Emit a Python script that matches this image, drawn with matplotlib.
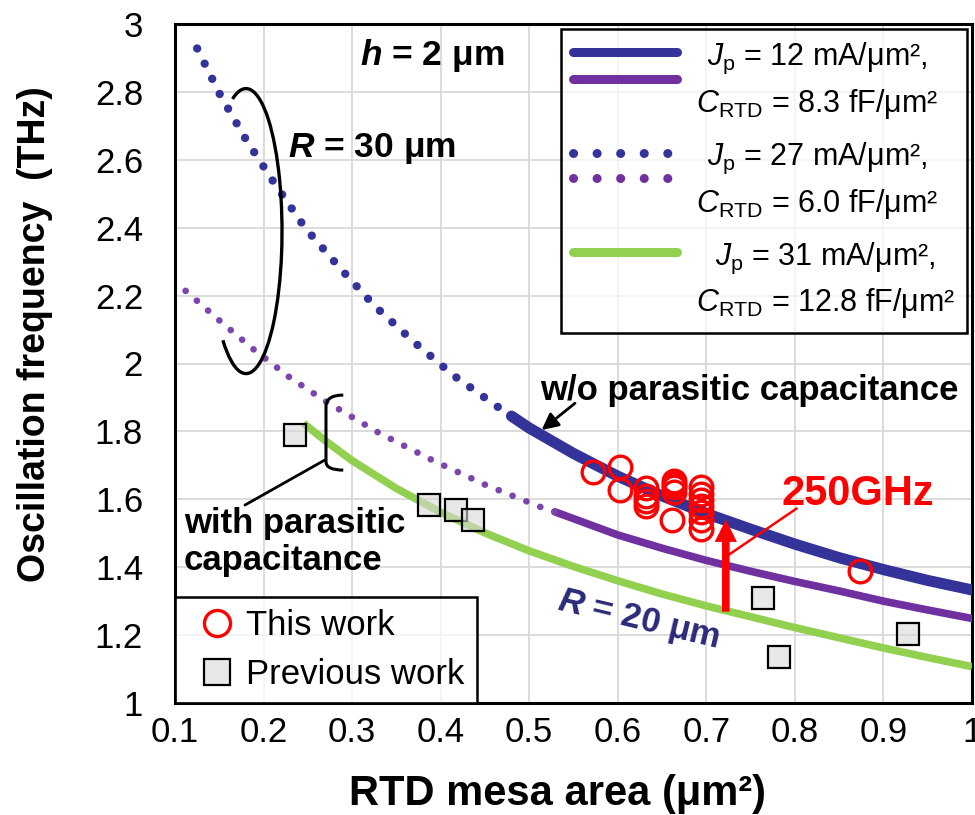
import numpy as np
import matplotlib
matplotlib.use("Agg")
import matplotlib.pyplot as plt
from matplotlib.legend_handler import HandlerBase
from matplotlib.lines import Line2D
from matplotlib.patches import Arc, PathPatch
from matplotlib.path import Path

plt.rcParams['font.family'] = ['Liberation Sans', 'DejaVu Sans']
plt.rcParams['mathtext.fontset'] = 'custom'
plt.rcParams['mathtext.rm'] = 'Liberation Sans'
plt.rcParams['mathtext.it'] = 'Liberation Sans:italic'
plt.rcParams['mathtext.bf'] = 'Liberation Sans:bold'
plt.rcParams['mathtext.bfit'] = 'Liberation Sans:italic:bold'

# ---- data ----
# Jp = 12 mA/um2, without parasitic capacitance (blue), R = 30 um part dotted
blue_dot_x = [0.125, 0.151, 0.181, 0.213, 0.247, 0.286, 0.326, 0.370, 0.415, 0.463, 0.480]
blue_dot_y = [2.928, 2.791, 2.656, 2.528, 2.399, 2.282, 2.168, 2.063, 1.964, 1.875, 1.845]
blue_x = [0.480, 0.500, 0.550, 0.600, 0.650, 0.700, 0.750, 0.800, 0.850, 0.900, 0.950, 1.000]
blue_y = [1.845, 1.810, 1.735, 1.668, 1.610, 1.558, 1.512, 1.468, 1.428, 1.393, 1.361, 1.333]

# with parasitic capacitance (purple)
purple_dot_x = [0.112, 0.150, 0.189, 0.229, 0.271, 0.330, 0.390, 0.451, 0.514, 0.529]
purple_dot_y = [2.214, 2.127, 2.041, 1.960, 1.887, 1.796, 1.716, 1.642, 1.576, 1.563]
purple_x = [0.529, 0.550, 0.600, 0.650, 0.700, 0.750, 0.800, 0.850, 0.900, 0.950, 1.000]
purple_y = [1.563, 1.543, 1.495, 1.456, 1.420, 1.388, 1.358, 1.330, 1.300, 1.274, 1.249]

# Jp = 31 mA/um2 (green)
green_x = [0.245, 0.270, 0.300, 0.350, 0.400, 0.450, 0.500, 0.550, 0.600, 0.650,
           0.700, 0.750, 0.800, 0.850, 0.900, 0.950, 1.000]
green_y = [1.824, 1.772, 1.714, 1.632, 1.562, 1.501, 1.448, 1.402, 1.360, 1.321,
           1.286, 1.254, 1.222, 1.192, 1.162, 1.134, 1.107]

# measured devices
this_x = [0.572, 0.603, 0.602, 0.632, 0.632, 0.632, 0.632, 0.663, 0.663, 0.663, 0.663,
          0.661, 0.694, 0.694, 0.694, 0.694, 0.694, 0.694, 0.694, 0.873]
this_y = [1.680, 1.694, 1.627, 1.632, 1.610, 1.595, 1.580, 1.655, 1.645, 1.635, 1.622,
          1.539, 1.637, 1.615, 1.598, 1.580, 1.562, 1.540, 1.512, 1.389]
prev_x = [0.235, 0.387, 0.417, 0.437, 0.764, 0.782, 0.928]
prev_y = [1.789, 1.583, 1.568, 1.539, 1.310, 1.136, 1.203]

x_ticks = [0.1, 0.2, 0.3, 0.4, 0.5, 0.6, 0.7, 0.8, 0.9, 1.0]
y_ticks = [1.0, 1.2, 1.4, 1.6, 1.8, 2.0, 2.2, 2.4, 2.6, 2.8, 3.0]

BLUE = '#333399'
PURPLE = '#7030A0'
PURPLE_DOT = '#7B45AD'
GREEN = '#92D050'
RED = '#FF0000'
NAVY = '#2A2A78'


class HandlerStack(HandlerBase):
    """Legend handle made of several lines stacked vertically."""
    def __init__(self, offsets, **kw):
        super().__init__(**kw)
        self.offsets = offsets

    def create_artists(self, legend, orig_handle, xdescent, ydescent,
                       width, height, fontsize, trans):
        yc = (height - ydescent) / 2
        out = []
        for h, off in zip(orig_handle, self.offsets):
            ls = '-' if h.get_linestyle() == '-' else (0, (0.01, 2.6))
            ln = Line2D([-xdescent, width - xdescent], [yc + off, yc + off],
                        color=h.get_color(), lw=6.5, linestyle=ls,
                        solid_capstyle='round', dash_capstyle='round',
                        transform=trans)
            out.append(ln)
        return out


fig = plt.figure(figsize=(9.75, 8.15), dpi=100)
ax = fig.add_axes([175 / 975, 1 - 703 / 815, 797 / 975, 679 / 815])

ax.set_xlim(0.1, 1.0)
ax.set_ylim(1.0, 3.0)
ax.set_xticks(x_ticks)
ax.set_yticks(y_ticks)
ax.set_xticklabels([f"{v:g}" for v in x_ticks])
ax.set_yticklabels([f"{v:g}" for v in y_ticks])
ax.tick_params(axis='both', length=0, labelsize=25)
ax.tick_params(axis='x', pad=9.5)
ax.tick_params(axis='y', pad=23)
ax.grid(True, color='#d9d9d9', lw=1.3)
ax.set_axisbelow(True)
for s in ax.spines.values():
    s.set_linewidth(2.2)
    s.set_color('black')

# curves
g_line, = ax.plot(green_x, green_y, color=GREEN, lw=5.5, solid_capstyle='butt', zorder=3)
p_line, = ax.plot(purple_x, purple_y, color=PURPLE, lw=5.5, solid_capstyle='round', zorder=3)
ax.plot(purple_dot_x, purple_dot_y, color=PURPLE_DOT, lw=4.8,
        linestyle=(0, (0.01, 2.23)), dash_capstyle='round', zorder=3)
b_line, = ax.plot(blue_x, blue_y, color=BLUE, lw=8, solid_capstyle='round', zorder=3)
ax.plot(blue_dot_x, blue_dot_y, color=BLUE, lw=6,
        linestyle=(0, (0.01, 2.02)), dash_capstyle='round', zorder=3)

# legend proxies for the dotted pair
bd_proxy = Line2D([], [], color=BLUE, linestyle=':')
pd_proxy = Line2D([], [], color=PURPLE, linestyle=':')

# points
prev_pts, = ax.plot(prev_x, prev_y, 's', ms=16, mfc=(0.85, 0.85, 0.85, 0.6),
                    mec='black', mew=1.6, ls='none', zorder=4)
this_pts, = ax.plot(this_x, this_y, 'o', ms=16.3, mfc='none', mec=RED,
                    mew=2.4, ls='none', zorder=5)

# axis labels
ax.set_xlabel('RTD mesa area (μm²)', fontsize=30, fontweight='bold', va='center')
ax.xaxis.set_label_coords(0.480, -0.134)
ax.set_ylabel('Oscillation frequency  (THz)', fontsize=27, fontweight='bold', va='center')
ax.yaxis.set_label_coords(-0.1757, 0.5434)

# annotations
ax.text(0.309, 2.879, r'$\mathbfit{h}$ = 2 μm', fontsize=25.5, fontweight='bold',
        ha='left', va='baseline')
ax.text(0.2276, 2.609, r'$\mathbfit{R}$ = 30 μm', fontsize=25.5, fontweight='bold',
        ha='left', va='baseline')
ax.text(0.512, 1.892, 'w/o parasitic capacitance', fontsize=25, fontweight='bold',
        ha='left', va='baseline', zorder=6)
ax.text(0.110, 1.500, 'with parasitic', fontsize=25, fontweight='bold',
        ha='left', va='baseline', zorder=6)
ax.text(0.110, 1.392, 'capacitance', fontsize=25, fontweight='bold',
        ha='left', va='baseline', zorder=6)
ax.text(0.8707, 1.583, '250GHz', fontsize=30, fontweight='bold', color=RED,
        ha='center', va='baseline', zorder=6)
ax.text(0.623, 1.244, r'$\mathbfit{R}$ = 20 μm', fontsize=25, fontweight='bold',
        color=NAVY, rotation=-13.5, rotation_mode='anchor', ha='center', va='center',
        zorder=6)

# arrow to the w/o curve
ax.annotate('', xy=(0.514, 1.804), xytext=(0.5517, 1.883),
            arrowprops=dict(arrowstyle='-|>,head_length=0.5,head_width=0.25',
                            color='black', lw=2, shrinkA=0, shrinkB=0,
                            mutation_scale=20), zorder=6)
# red 250 GHz arrow and its leader
ax.annotate('', xy=(0.722, 1.54), xytext=(0.722, 1.269),
            arrowprops=dict(facecolor=RED, edgecolor='none', width=5.5,
                            headwidth=16, headlength=16, shrink=0), zorder=6)
ax.annotate('', xy=(0.725, 1.436), xytext=(0.802, 1.573),
            arrowprops=dict(arrowstyle='-', color=RED, lw=1.8,
                            shrinkA=0, shrinkB=0), zorder=6)

# ellipse around R = 30 um curves
ecx, ecy, ew, eh = 0.1802, 2.390, 0.0813, 0.8395
t1, t2 = np.deg2rad(230), np.deg2rad(472)
th1 = np.degrees(np.arctan2(eh * np.sin(t1), ew * np.cos(t1)))
th2 = np.degrees(np.arctan2(eh * np.sin(t2), ew * np.cos(t2)))
ax.add_patch(Arc((ecx, ecy), ew, eh, theta1=th1, theta2=th2,
                 color='black', lw=2.4, zorder=6))

# bracket for "with parasitic capacitance"
brace = Path([(0.290, 1.907), (0.2705, 1.907), (0.2705, 1.873),
              (0.2705, 1.711), (0.2705, 1.686), (0.290, 1.686)],
             [Path.MOVETO, Path.CURVE3, Path.CURVE3,
              Path.LINETO, Path.CURVE3, Path.CURVE3])
ax.add_patch(PathPatch(brace, fill=False, edgecolor='black', lw=2.2, zorder=6))
ax.annotate('', xy=(0.179, 1.583), xytext=(0.2694, 1.716),
            arrowprops=dict(arrowstyle='-', color='black', lw=2.0,
                            shrinkA=0, shrinkB=0), zorder=6)

# legends
labels1 = ['$\\mathit{J}_\\mathrm{p}$ = 12 mA/μm²,\n$\\mathit{C}_\\mathrm{RTD}$ = 8.3 fF/μm²',
           '$\\mathit{J}_\\mathrm{p}$ = 27 mA/μm²,\n$\\mathit{C}_\\mathrm{RTD}$ = 6.0 fF/μm²',
           '$\\mathit{J}_\\mathrm{p}$ = 31 mA/μm²,\n$\\mathit{C}_\\mathrm{RTD}$ = 12.8 fF/μm²']
h_solid = (b_line, p_line)
h_dot = (bd_proxy, pd_proxy)
h_green = (g_line,)
leg1 = ax.legend([h_solid, h_dot, h_green], labels1, loc='upper right',
                 bbox_to_anchor=(1.0, 1.0), borderaxespad=0.15,
                 fontsize=22, handlelength=3.4, handleheight=2.0,
                 handletextpad=0.6, labelspacing=0.65, borderpad=0.4,
                 fancybox=False, edgecolor='black',
                 handler_map={h_solid: HandlerStack([17.2, -2.2]),
                              h_dot: HandlerStack([16.2, -1.8]),
                              h_green: HandlerStack([16.5])})
leg1.get_frame().set_linewidth(1.8)
leg1.get_frame().set_alpha(None)
leg1.get_frame().set_facecolor((1, 1, 1, 0.7))
for t in leg1.get_texts():
    t.set_multialignment('center')
    t.set_linespacing(1.43)
leg1.set_zorder(7)
ax.add_artist(leg1)

leg2 = ax.legend([this_pts, prev_pts], ['This work', 'Previous work'], loc='lower left',
                 borderaxespad=0, fontsize=25, handlelength=1.7, handletextpad=0.0,
                 labelspacing=0.46, borderpad=0.35, markerscale=1.15,
                 fancybox=False, edgecolor='black')
leg2.get_frame().set_linewidth(1.8)
leg2.get_frame().set_alpha(None)
leg2.get_frame().set_facecolor((1, 1, 1, 0.7))
leg2.set_zorder(7)

fig.savefig('out.png', dpi=100)
